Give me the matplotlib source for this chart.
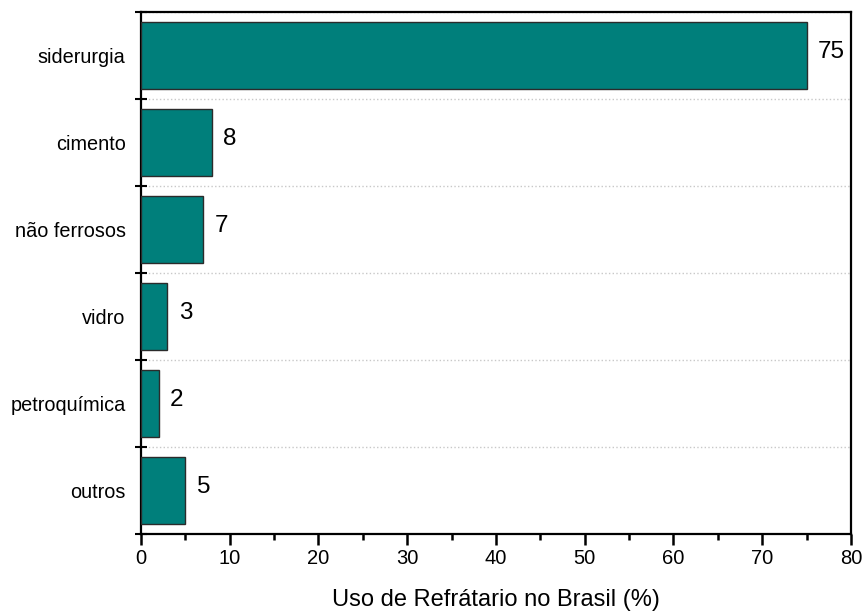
import matplotlib.pyplot as plt
import numpy as np
from matplotlib.ticker import MultipleLocator, FixedLocator

plt.rcParams['font.family'] = ['Liberation Sans', 'DejaVu Sans']

categorias = ['siderurgia', 'cimento', 'não ferrosos', 'vidro', 'petroquímica', 'outros']
valores = [75, 8, 7, 3, 2, 5]

fig = plt.figure(figsize=(8.64, 6.13), dpi=100)
ax = fig.add_axes([0.163, 0.129, 0.822, 0.851])

y = np.arange(len(categorias))
ax.barh(y, valores, height=0.77, color='#007f7b', edgecolor='#2b2b2b', linewidth=1.0, zorder=3)

for yi, v in zip(y, valores):
    ax.text(v + 1.3, yi - 0.04, str(v), va='center', ha='left', fontsize=17.5)

ax.set_ylim(len(categorias) - 0.5, -0.5)
ax.set_xlim(0, 80)

ax.set_yticks(y)
ax.set_yticklabels(categorias, fontsize=14.3)
ax.tick_params(axis='y', which='major', length=0, pad=11)
ax.yaxis.set_minor_locator(FixedLocator(np.arange(-0.5, len(categorias), 1.0)))
ax.tick_params(axis='y', which='minor', direction='inout', length=8, width=1.5)
ax.grid(axis='y', which='minor', color='#c8c8c8', linestyle=':', linewidth=1.0, zorder=0)

ax.xaxis.set_major_locator(MultipleLocator(10))
ax.xaxis.set_minor_locator(MultipleLocator(5))
ax.tick_params(axis='x', which='major', direction='out', length=8, width=1.8, labelsize=14.5, pad=3)
ax.tick_params(axis='x', which='minor', direction='out', length=4.5, width=1.8)

for s in ax.spines.values():
    s.set_linewidth(1.6)

ax.set_xlabel('Uso de Refrátario no Brasil (%)', fontsize=17, labelpad=15)

fig.savefig('out.png', dpi=100)
